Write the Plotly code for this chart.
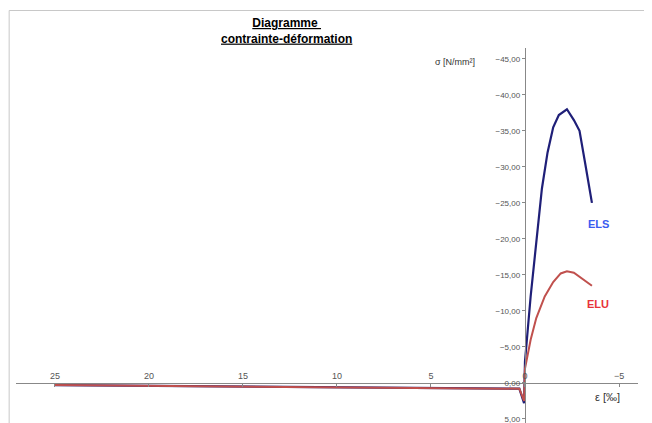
import plotly.graph_objects as go

# strain [‰] and stress [N/mm²] (compression negative, axes reversed)
eps_els = [25, 20, 15, 10, 5, 0.9, 0.3, 0.05, 0.0, -0.3, -0.6, -0.9, -1.2, -1.5, -1.8, -2.23, -2.6, -2.9, -3.2, -3.56]
sig_els = [0.3, 0.4, 0.5, 0.6, 0.7, 0.8, 0.8, 2.8, -3.0, -12.0, -20.0, -27.0, -32.0, -35.5, -37.2, -38.0, -36.5, -35.0, -30.5, -25.0]
eps_elu = [25, 20, 15, 10, 5, 0.9, 0.3, 0.05, 0.0, -0.3, -0.6, -1.05, -1.5, -1.9, -2.23, -2.6, -3.0, -3.56]
sig_elu = [0.3, 0.4, 0.5, 0.6, 0.7, 0.8, 0.8, 2.5, -2.0, -6.0, -9.0, -12.0, -14.0, -15.2, -15.5, -15.3, -14.6, -13.5]

fig = go.Figure()
fig.add_trace(go.Scatter(x=eps_els, y=sig_els, mode="lines", name="ELS",
                         line=dict(color="#1f1f78", width=2.2)))
fig.add_trace(go.Scatter(x=eps_elu, y=sig_elu, mode="lines", name="ELU",
                         line=dict(color="#c0504d", width=2)))

fig.add_annotation(x=-3.9, y=-22.0, text="<b>ELS</b>", showarrow=False,
                   font=dict(color="#3a5cf0", size=11))
fig.add_annotation(x=-3.9, y=-11.0, text="<b>ELU</b>", showarrow=False,
                   font=dict(color="#e8333a", size=11))
fig.add_annotation(xref="paper", yref="paper", x=0.435, y=1.0, yanchor="bottom",
                   text="<b><u>Diagramme </u></b><br><b><u>contrainte-déformation</u></b>",
                   showarrow=False, font=dict(size=12, color="black"))
fig.add_annotation(x=3.7, y=-44.5, text="σ [N/mm²]", showarrow=False,
                   font=dict(size=9, color="#333"))
fig.add_annotation(x=-4.4, y=2.0, text="ε [‰]", showarrow=False,
                   font=dict(size=11, color="#333"))

fig.update_layout(
    width=652, height=423, showlegend=False,
    paper_bgcolor="white", plot_bgcolor="white",
    margin=dict(l=8, r=22, t=40, b=8),
    separators=",.",
    font=dict(family="Liberation Sans, Arial", color="#555"),
    xaxis=dict(range=[27.07, -6.01], showgrid=False, zeroline=False, automargin=False,
               anchor="free", position=0.1067, side="top",
               showline=True, linecolor="#888", ticks="inside", ticklen=3,
               tickcolor="#888", dtick=5, tickfont=dict(size=9)),
    yaxis=dict(range=[5.56, -46.5], showgrid=False, zeroline=False, automargin=False,
               anchor="free", position=0.818, side="left",
               showline=True, linecolor="#888", ticks="outside", ticklen=3,
               tickcolor="#888", dtick=5, tickformat=".2f", tickfont=dict(size=8)),
    shapes=[dict(type="rect", xref="paper", yref="paper", x0=-0.011, x1=1.033,
                 y0=-0.018, y1=1.1, line=dict(color="#c8c8c8", width=1))],
)
fig.write_html("out.html")
